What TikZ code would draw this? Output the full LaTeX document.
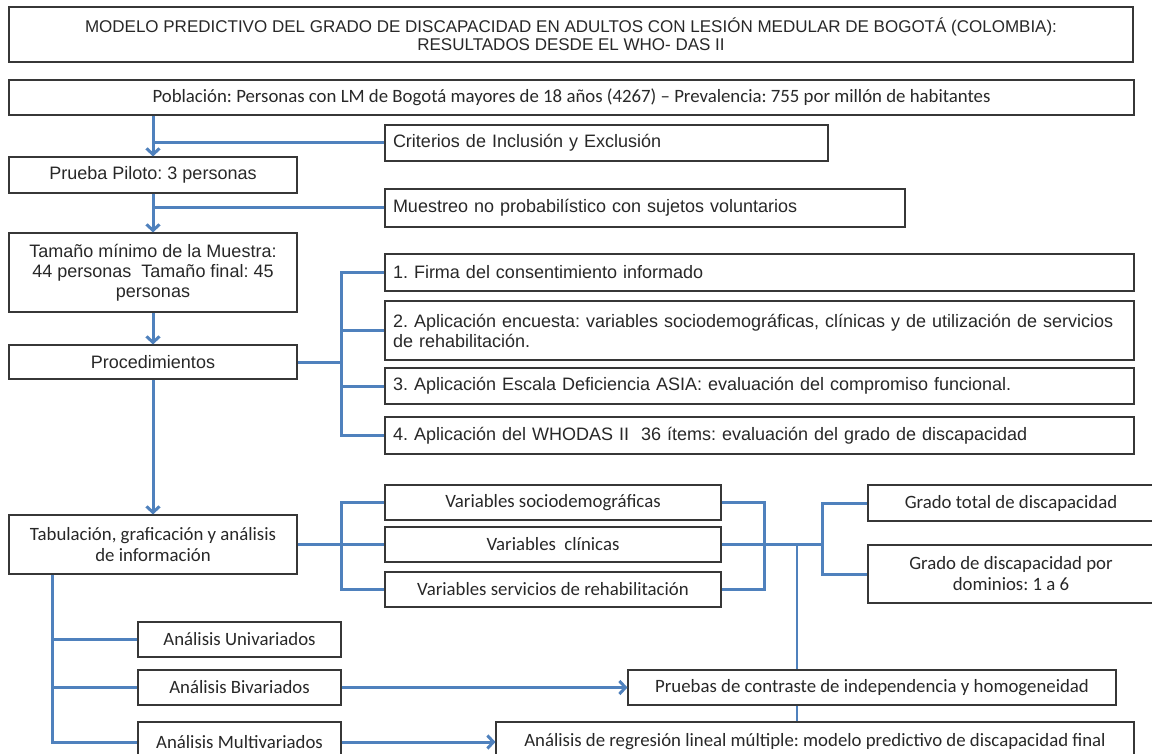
\documentclass[tikz,border=0pt]{standalone}
\usepackage{fontspec}
\setmainfont{Liberation Sans}
\newfontfamily\calfont{Carlito}
\usetikzlibrary{arrows.meta,calc}
\definecolor{lnblue}{RGB}{79,129,189}
\definecolor{bordergray}{RGB}{55,55,55}
\definecolor{txtgray}{RGB}{40,40,40}
\frenchspacing
\begin{document}
\begin{tikzpicture}[x=1pt,y=-1pt,
  bx/.style={draw=bordergray, line width=1.1pt, rectangle, inner sep=0pt, text=txtgray, fill=white},
  ar/.style={font=\fontsize{18}{20}\selectfont},
  ca/.style={font=\calfont\fontsize{18.8}{21}\selectfont},
  lft/.style={align=left, inner xsep=8pt},
  ctr/.style={align=center},
  ln/.style={draw=lnblue, line width=3pt, line join=miter},
  lnthin/.style={draw=lnblue, line width=2.2pt},
  arr/.style={ln, -{Straight Barb[length=6pt,width=13pt]}}]
\useasboundingbox (0,0) rectangle (1152,754);
\clip (0,0) rectangle (1152,754);
\fill[white] (0,0) rectangle (1152,754);

% named x positions
\coordinate (pb) at (341,0);
\coordinate (rb) at (764,0);
\coordinate (gb) at (822,0);
\coordinate (db) at (797,0);
\coordinate (lb) at (52,0);

% nodes
\node[bx, ctr, font=\fontsize{17}{18}\selectfont, minimum width=1124pt, minimum height=55pt] (title) at (571,34.5)
  {MODELO PREDICTIVO DEL GRADO DE DISCAPACIDAD EN ADULTOS CON LESIÓN MEDULAR DE BOGOTÁ (COLOMBIA):\\RESULTADOS DESDE EL WHO- DAS II};
\node[bx, ca, minimum width=1125pt, minimum height=35pt] (pop) at (571.5,97.5)
  {Población: Personas con LM de Bogotá mayores de 18 años (4267) – Prevalencia: 755 por millón de habitantes};
\node[bx, ar, lft, text width=427pt, minimum height=36pt] (crit) at (606.5,143)
  {Criterios de Inclusión y Exclusión};
\node[bx, ar, minimum width=288pt, minimum height=36pt] (prueba) at (153,175)
  {Prueba Piloto: 3 personas};
\node[bx, ar, lft, text width=504pt, minimum height=38pt] (muestreo) at (645,208)
  {Muestreo no probabilístico con sujetos voluntarios};
\node[bx, ar, ctr, minimum width=288pt, minimum height=79pt] (tamano) at (153,272.5)
  {Tamaño mínimo de la Muestra:\\44 personas\ \ Tamaño final: 45\\personas};
\node[bx, ar, minimum width=288pt, minimum height=34pt] (proc) at (153,362)
  {Procedimientos};
\node[bx, ar, lft, text width=733pt, minimum height=37pt] (b1) at (759.5,272.5)
  {1. Firma del consentimiento informado};
\node[bx, ar, lft, text width=733pt, minimum height=59pt] (b2) at (759.5,330.5)
  {2. Aplicación encuesta: variables sociodemográficas, clínicas y de utilización de servicios\\de rehabilitación.};
\node[bx, ar, lft, text width=733pt, minimum height=36pt] (b3) at (759.5,386)
  {3. Aplicación Escala Deficiencia ASIA: evaluación del compromiso funcional.};
\node[bx, ar, lft, text width=733pt, minimum height=37pt] (b4) at (759.5,435.5)
  {4. Aplicación del WHODAS II\ \ 36 ítems: evaluación del grado de discapacidad};
\node[bx, ca, ctr, minimum width=288pt, minimum height=59pt] (tab) at (153,544.5)
  {Tabulación, graficación y análisis\\de información};
\node[bx, ca, minimum width=336pt, minimum height=35pt] (v1) at (553,502.5)
  {Variables sociodemográficas};
\node[bx, ca, minimum width=336pt, minimum height=35pt] (v2) at (553,544.5)
  {Variables\ \ clínicas};
\node[bx, ca, minimum width=336pt, minimum height=35pt] (v3) at (553,589.5)
  {Variables servicios de rehabilitación};
\node[bx, ca, minimum width=286pt, minimum height=36pt] (g1) at (1011,503)
  {Grado total de discapacidad};
\node[bx, ca, ctr, minimum width=286pt, minimum height=58pt] (g2) at (1011,574)
  {Grado de discapacidad por\\dominios: 1 a 6};
\node[bx, ca, minimum width=203pt, minimum height=35pt] (uni) at (239.5,639.5)
  {Análisis Univariados};
\node[bx, ca, minimum width=203pt, minimum height=35pt] (bi) at (239.5,687.5)
  {Análisis Bivariados};
\node[bx, ca, minimum width=203pt, minimum height=40pt] (multi) at (239.5,742)
  {Análisis Multivariados};
\node[bx, ca, minimum width=488pt, minimum height=35pt] (pruebas) at (872,687.5)
  {Pruebas de contraste de independencia y homogeneidad};
\node[bx, ca, minimum width=638pt, minimum height=40pt] (reg) at (815,742)
  {Análisis de regresión lineal múltiple: modelo predictivo de discapacidad final};

% connectors
\draw[arr] (pop.south -| prueba.center) -- (prueba.north);
\draw[ln] (crit.west) -- (crit.west -| prueba.center);
\draw[arr] (prueba.south) -- (tamano.north);
\draw[ln] (muestreo.west) -- (muestreo.west -| prueba.center);
\draw[arr] (tamano.south) -- (proc.north);

\draw[ln] (proc.east) -- (proc.east -| pb);
\draw[ln] (b1.west) -- (b1.west -| pb) -- (b4.west -| pb) -- (b4.west);
\draw[ln] (b2.west) -- (b2.west -| pb);
\draw[ln] (b3.west) -- (b3.west -| pb);

\draw[arr] (proc.south) -- (tab.north);

\draw[ln] (tab.east) -- (v2.west);
\draw[ln] (v1.west) -- (v1.west -| pb) -- (v3.west -| pb) -- (v3.west);

\draw[ln] (v1.east) -- (v1.east -| rb) -- (v3.east -| rb) -- (v3.east);
\draw[ln] (v2.east) -- (v2.east -| gb);
\draw[ln] (g1.west) -- (g1.west -| gb) -- (g2.west -| gb) -- (g2.west);
\draw[lnthin] (v2.east -| db) -- (pruebas.north -| db);
\draw[lnthin] (pruebas.south -| db) -- (reg.north -| db);

\draw[ln] (tab.south -| lb) -- (multi.west -| lb) -- (multi.west);
\draw[ln] (uni.west) -- (uni.west -| lb);
\draw[ln] (bi.west) -- (bi.west -| lb);
\draw[arr] (bi.east) -- (pruebas.west);
\draw[arr] (multi.east) -- (reg.west);
\end{tikzpicture}
\end{document}
